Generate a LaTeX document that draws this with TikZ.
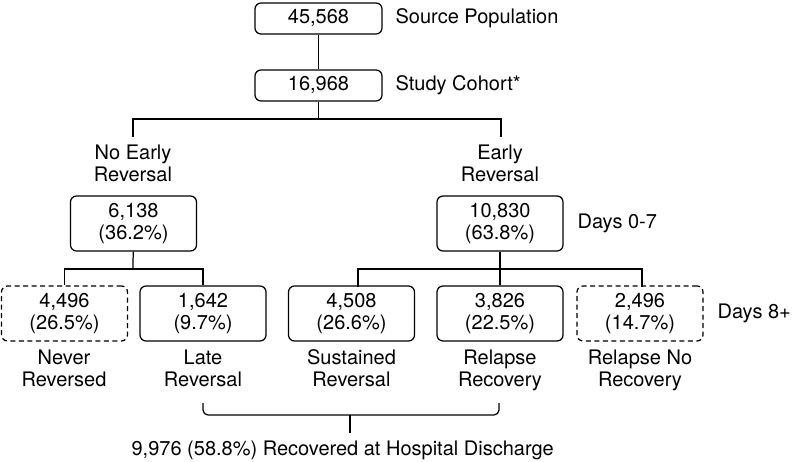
\documentclass[tikz,border=0pt]{standalone}
\usepackage{fontspec}
\setmainfont{TeX Gyre Heros}
\newcommand\lnstr{\rule[-5pt]{0pt}{19.4pt}}
\begin{document}
\begin{tikzpicture}[x=1pt,y=-1pt,line width=1.25pt,
  every node/.style={font=\fontsize{20}{22}\selectfont, inner sep=0pt},
  cbox/.style={draw, rounded corners=6pt, minimum width=126pt, minimum height=55pt, align=center},
  sbox/.style={draw, rounded corners=6pt, minimum width=127pt, minimum height=31pt, align=center},
  dbox/.style={cbox, dash pattern=on 5pt off 3.5pt},
  lbl/.style={align=center},
  side/.style={anchor=west}]
\useasboundingbox (0,0) rectangle (792,462);

% boxes
\node[sbox] (src) at (318.5,18.5) {\lnstr 45,568};
\node[sbox] (coh) at (318.5,85.5) {\lnstr 16,968};
\node[cbox] (noe) at (133.5,223.5) {\lnstr 6,138\\\lnstr (36.2\%)};
\node[cbox] (ear) at (500,223.5) {\lnstr 10,830\\\lnstr (63.8\%)};
\node[dbox] (nev) at (64.5,313.5) {\lnstr 4,496\\\lnstr (26.5\%)};
\node[cbox] (lat) at (203,313.5) {\lnstr 1,642\\\lnstr (9.7\%)};
\node[cbox] (sus) at (351.5,313.5) {\lnstr 4,508\\\lnstr (26.6\%)};
\node[cbox] (rel) at (500,313.5) {\lnstr 3,826\\\lnstr (22.5\%)};
\node[dbox] (rnr) at (640,313.5) {\lnstr 2,496\\\lnstr (14.7\%)};

% side texts
\node[side] (tsrc) at (395,18.5) {\lnstr Source Population};
\node[side] (tcoh) at (395,85.5) {\lnstr Study Cohort*};
\node[side] (td07) at (577,223.5) {\lnstr Days 0-7};
\node[side] (td8) at (717,314) {\lnstr Days 8+};

% group labels
\node[lbl] (lnoe) at (133,166) {\lnstr No Early\\\lnstr Reversal};
\node[lbl] (lear) at (500,166) {\lnstr Early\\\lnstr Reversal};
\node[lbl] (lnev) at (64,371) {\lnstr Never\\\lnstr Reversed};
\node[lbl] (llat) at (203,371) {\lnstr Late\\\lnstr Reversal};
\node[lbl] (lsus) at (351.5,371) {\lnstr Sustained\\\lnstr Reversal};
\node[lbl] (lrel) at (500,371) {\lnstr Relapse\\\lnstr Recovery};
\node[lbl] (lrnr) at (640,371) {\lnstr Relapse No\\\lnstr Recovery};
\node[anchor=west] (total) at (131,451) {\lnstr 9,976 (58.8\%) Recovered at Hospital Discharge};

% connector coordinates
\coordinate (j1) at (318.5,119);
\coordinate (aL) at (133,137);
\coordinate (aR) at (501,137);
\coordinate (j2) at (133,269);
\coordinate (bL) at (358,287);
\coordinate (bR) at (642,287);
\coordinate (kL) at (203,403);
\coordinate (kR) at (499,403);
\coordinate (kM) at (350,415);
\coordinate (kT) at (350,433);

% connectors
\draw (src) -- (coh);
\draw (coh) -- (j1);
\draw (aL) |- (j1) -| (aR);
\draw (noe) -- (j2);
\draw (nev.north) |- (j2) -| (lat.north);
\draw (ear) -- (rel);
\draw (bL) |- (bL |- j2) -- (bR |- j2) -- (bR);
\draw[rounded corners=5pt] (kL) |- (kM) -| (kR);
\draw (kM) -- (kT);
\end{tikzpicture}
\end{document}
